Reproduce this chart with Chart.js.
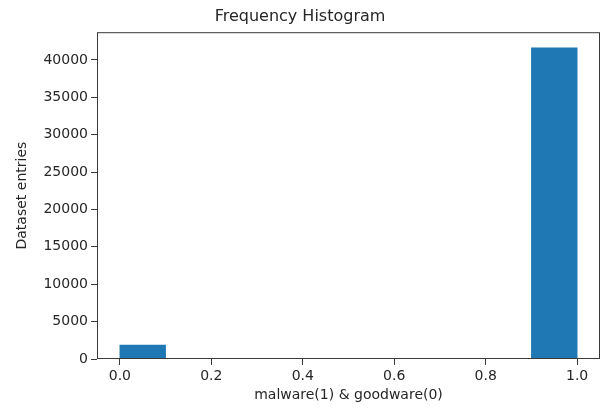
<!DOCTYPE html>
<html>
<head>
<meta charset="utf-8">
<script src="https://cdn.jsdelivr.net/npm/chart.js@4/dist/chart.umd.min.js"></script>
<style>
  html, body { margin: 0; padding: 0; background: #fff; }
  #wrap { width: 606px; height: 414px; }
</style>
</head>
<body>
<div id="wrap"><canvas id="histChart" width="606" height="414"></canvas></div>
<script>
// histogram bins (10 bins from 0 to 1), centers and counts
const binCenters = [0.05, 0.15, 0.25, 0.35, 0.45, 0.55, 0.65, 0.75, 0.85, 0.95];
const binCounts = [1860, 0, 0, 0, 0, 0, 0, 0, 0, 41600];
const xTicks = [0, 0.2, 0.4, 0.6, 0.8, 1.0];
const yTicks = [0, 5000, 10000, 15000, 20000, 25000, 30000, 35000, 40000];

const FONT = "'DejaVu Sans', sans-serif";
const TEXT = "#262626";

// matplotlib-style box around the plot area
const boxPlugin = {
    id: 'box',
    afterDatasetsDraw(chart) {
        const a = chart.chartArea;
        const ctx = chart.ctx;
        ctx.save();
        ctx.strokeStyle = "#3a3a3a";
        ctx.lineWidth = 1;
        ctx.strokeRect(a.left + 0.5, a.top + 0.5, a.right - a.left - 1, a.bottom - a.top - 1);
        ctx.restore();
    }
};

window.onload = () => {
    let ctx = document.getElementById('histChart').getContext('2d');
    new Chart(ctx, {
        type: 'bar',
        data: {
            datasets: [{
                label: "entries",
                data: binCenters.map((c, i) => ({ x: c, y: binCounts[i] })),
                backgroundColor: "#1f77b4",
                borderWidth: 0,
                barPercentage: 1,
                categoryPercentage: 1
            }]
        },
        plugins: [boxPlugin],
        options: {
            responsive: false,
            animation: false,
            layout: { padding: { left: 0, right: 6, top: 0, bottom: 0 } },
            plugins: {
                legend: { display: false },
                tooltip: { enabled: false },
                title: {
                    display: true,
                    text: "Frequency Histogram",
                    color: TEXT,
                    font: { family: FONT, size: 16, weight: 'normal' },
                    padding: { top: 7, bottom: 6 }
                }
            },
            scales: {
                x: {
                    type: 'linear',
                    min: -0.05,
                    max: 1.05,
                    offset: false,
                    afterBuildTicks: s => { s.ticks = xTicks.map(v => ({ value: v })); },
                    afterFit: s => { s.height = 55; },
                    ticks: {
                        color: TEXT,
                        font: { family: FONT, size: 14 },
                        padding: 3,
                        maxRotation: 0,
                        callback: v => v.toFixed(1)
                    },
                    grid: { display: true, offset: false, drawOnChartArea: false, drawTicks: true, tickLength: 6, color: "#3a3a3a" },
                    border: { display: false },
                    title: {
                        display: true,
                        text: "malware(1) & goodware(0)",
                        color: TEXT,
                        font: { family: FONT, size: 14 },
                        padding: { top: 0, bottom: 10 }
                    }
                },
                y: {
                    min: 0,
                    max: 43700,
                    afterBuildTicks: s => { s.ticks = yTicks.map(v => ({ value: v })); },
                    afterFit: s => { s.width = 97; },
                    ticks: {
                        color: TEXT,
                        font: { family: FONT, size: 14 },
                        padding: 3,
                        callback: v => String(v)
                    },
                    grid: { display: true, drawOnChartArea: false, drawTicks: true, tickLength: 6, color: "#3a3a3a" },
                    border: { display: false },
                    title: {
                        display: true,
                        text: "Dataset entries",
                        color: TEXT,
                        font: { family: FONT, size: 14 },
                        padding: { top: 14, bottom: 0 }
                    }
                }
            }
        }
    });
};
</script>
</body>
</html>
